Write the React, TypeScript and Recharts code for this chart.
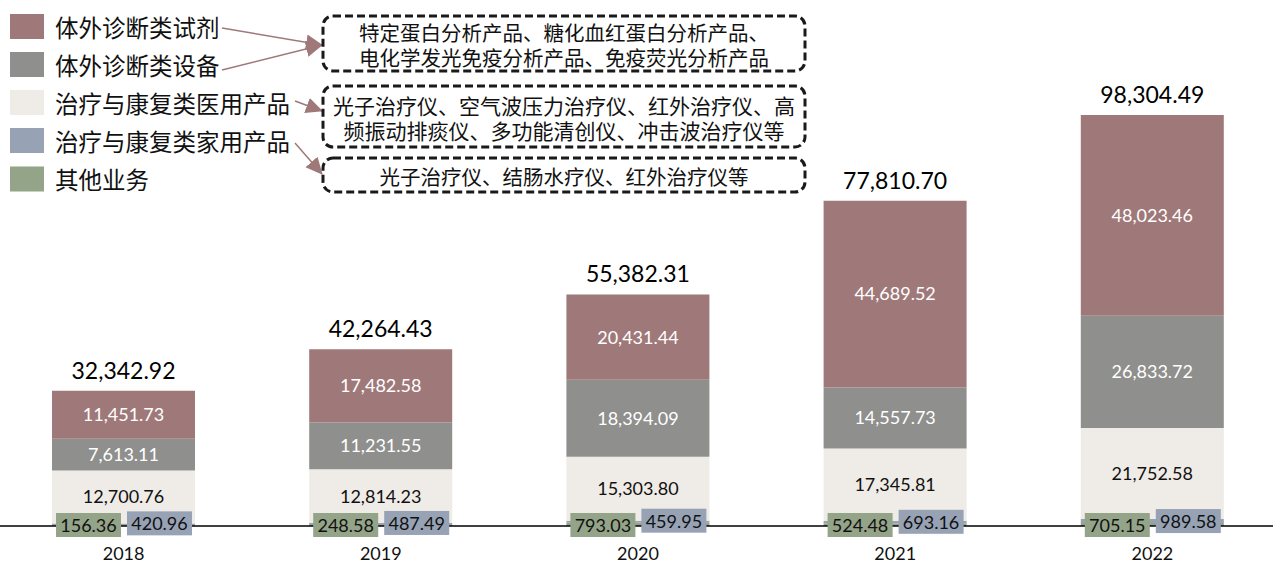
import { BarChart, Bar, XAxis, YAxis, LabelList } from 'recharts';

const years = ['2018', '2019', '2020', '2021', '2022'];
const otherBiz = [156.36, 248.58, 793.03, 524.48, 705.15];
const homeTherapy = [420.96, 487.49, 459.95, 693.16, 989.58];
const medTherapy = [12700.76, 12814.23, 15303.8, 17345.81, 21752.58];
const ivdDevice = [7613.11, 11231.55, 18394.09, 14557.73, 26833.72];
const ivdReagent = [11451.73, 17482.58, 20431.44, 44689.52, 48023.46];

const legendItems = [
  { name: '体外诊断类试剂', color: '#9F7979' },
  { name: '体外诊断类设备', color: '#8F8F8D' },
  { name: '治疗与康复类医用产品', color: '#EFEBE6' },
  { name: '治疗与康复类家用产品', color: '#97A3B5' },
  { name: '其他业务', color: '#94A488' },
];

const notes = [
  ['特定蛋白分析产品、糖化血红蛋白分析产品、', '电化学发光免疫分析产品、免疫荧光分析产品'],
  ['光子治疗仪、空气波压力治疗仪、红外治疗仪、高', '频振动排痰仪、多功能清创仪、冲击波治疗仪等'],
  ['光子治疗仪、结肠水疗仪、红外治疗仪等'],
];

const data = years.map((year, i) => ({
  year,
  otherBiz: otherBiz[i],
  homeTherapy: homeTherapy[i],
  medTherapy: medTherapy[i],
  ivdDevice: ivdDevice[i],
  ivdReagent: ivdReagent[i],
  total: otherBiz[i] + homeTherapy[i] + medTherapy[i] + ivdDevice[i] + ivdReagent[i],
}));

const fmt = (v: any) =>
  Number(v).toLocaleString('en-US', { minimumFractionDigits: 2, maximumFractionDigits: 2 });

const NUM_FONT = 'Lato, "Open Sans", sans-serif';
const CJK_FONT = '"Noto Sans CJK SC", sans-serif';

function BoxLabel(props: any, fill: string, dx: number, dy: number) {
  const { x, y, height, value } = props;
  const bottom = Number(y) + Number(height);
  return (
    <g>
      <rect x={Number(x) + dx} y={bottom + dy} width={65} height={24} fill={fill} />
      <text
        x={Number(x) + dx + 32.5}
        y={bottom + dy + 12}
        textAnchor="middle"
        dominantBaseline="central"
        fontFamily={NUM_FONT}
        fontSize={18}
        fill="#111"
      >
        {fmt(value)}
      </text>
    </g>
  );
}

function TotalLabel(props: any) {
  const { x, y, width, value } = props;
  return (
    <text
      x={Number(x) + Number(width) / 2}
      y={Number(y) - 12}
      textAnchor="middle"
      fontFamily={NUM_FONT}
      fontSize={23}
      fill="#000"
    >
      {fmt(value)}
    </text>
  );
}

function YearTick(props: any) {
  const { x, y, payload } = props;
  return (
    <text x={x} y={Number(y) + 34} textAnchor="middle" fontFamily={NUM_FONT} fontSize={18} fill="#111">
      {payload.value}
    </text>
  );
}

function Annotations() {
  const arrowColor = '#9F7979';
  const rows = [26.5, 64.5, 102.5, 140.5, 179];
  const boxes = [
    { y: 16, h: 55, lines: [31.5, 57] },
    { y: 86, h: 61, lines: [104.5, 130] },
    { y: 158, h: 34, lines: [176] },
  ];
  const arrows = [
    [222, 28, 322, 45],
    [222, 70, 322, 45],
    [295, 101, 322, 111],
    [295, 143, 322, 174],
  ];
  return (
    <svg width={1273} height={563} style={{ position: 'absolute', left: 0, top: 0, pointerEvents: 'none' }}>
      <defs>
        <marker id="ah" markerUnits="userSpaceOnUse" markerWidth={18} markerHeight={18} refX={16} refY={9} orient="auto">
          <path d="M0,1 L17,9 L0,17 Z" fill={arrowColor} />
        </marker>
      </defs>
      {legendItems.map((it, i) => (
        <g key={it.name}>
          <rect x={10} y={rows[i] - 12.5} width={34} height={25} fill={it.color} />
          <text x={55} y={rows[i]} dominantBaseline="central" fontFamily={CJK_FONT} fontSize={23.5} fill="#111">
            {it.name}
          </text>
        </g>
      ))}
      {arrows.map((a, i) => (
        <line key={i} x1={a[0]} y1={a[1]} x2={a[2]} y2={a[3]} stroke={arrowColor} strokeWidth={1.5} markerEnd="url(#ah)" />
      ))}
      {boxes.map((b, i) => (
        <g key={i}>
          <rect x={323} y={b.y} width={482} height={b.h} rx={10} fill="none" stroke="#1a1a1a" strokeWidth={3} strokeDasharray="8 4" />
          {notes[i].map((t, j) => (
            <text
              key={j}
              x={564}
              y={b.lines[j]}
              textAnchor="middle"
              dominantBaseline="central"
              fontFamily={CJK_FONT}
              fontSize={i === 1 ? 21 : 20.5}
              fill="#111"
            >
              {t}
            </text>
          ))}
        </g>
      ))}
    </svg>
  );
}

export default function App() {
  return (
    <div style={{ position: 'absolute', left: 0, top: 0, width: 1273, height: 563, overflow: 'hidden', background: '#fff' }}>
      <div style={{ position: 'absolute', left: -5, top: 0 }}>
        <BarChart width={1286} height={563} data={data} margin={{ top: 0, right: 0, bottom: 0, left: 0 }} barSize={143}>
          <XAxis
            dataKey="year"
            height={37}
            tickLine={false}
            tickSize={0}
            tickMargin={0}
            axisLine={{ stroke: '#000', strokeWidth: 1.5 }}
            tick={<YearTick />}
          />
          <YAxis hide domain={[0, 125810]} allowDataOverflow />
          <Bar dataKey="otherBiz" stackId="a" fill="#94A488" isAnimationActive={false}>
            <LabelList dataKey="otherBiz" content={(p: any) => BoxLabel(p, '#94A488', 4, -13)} />
          </Bar>
          <Bar dataKey="homeTherapy" stackId="a" fill="#97A3B5" isAnimationActive={false}>
            <LabelList dataKey="homeTherapy" content={(p: any) => BoxLabel(p, '#97A3B5', 75, -14)} />
          </Bar>
          <Bar dataKey="medTherapy" stackId="a" fill="#EFEBE6" isAnimationActive={false}>
            <LabelList dataKey="medTherapy" position="center" formatter={fmt} fill="#111" fontSize={18} fontFamily={NUM_FONT} />
          </Bar>
          <Bar dataKey="ivdDevice" stackId="a" fill="#8F8F8D" isAnimationActive={false}>
            <LabelList dataKey="ivdDevice" position="center" formatter={fmt} fill="#fff" fontSize={18} fontFamily={NUM_FONT} />
          </Bar>
          <Bar dataKey="ivdReagent" stackId="a" fill="#9F7979" isAnimationActive={false}>
            <LabelList dataKey="ivdReagent" position="center" formatter={fmt} fill="#fff" fontSize={18} fontFamily={NUM_FONT} />
            <LabelList dataKey="total" content={<TotalLabel />} />
          </Bar>
        </BarChart>
      </div>
      <Annotations />
    </div>
  );
}
